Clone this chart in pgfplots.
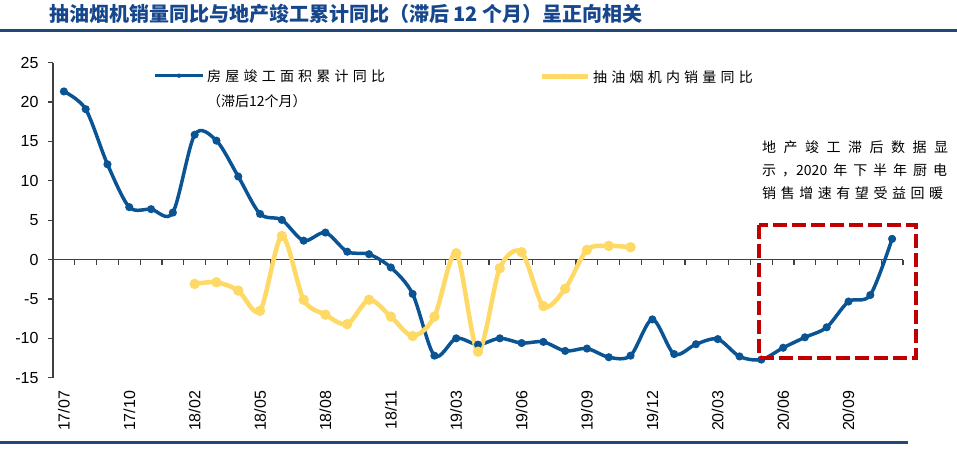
\documentclass[border=0pt]{standalone}
\usepackage{pgfplots}
\pgfplotsset{compat=1.18}
\usepackage{fontspec}
\setmainfont{Liberation Sans}
\newfontfamily\cjk{Noto Sans CJK SC}
\newfontfamily\cjksp[LetterSpace=30]{Noto Sans CJK SC}
\definecolor{seriesblue}{HTML}{0B5494}
\definecolor{yel}{HTML}{FFD966}
\definecolor{boxred}{HTML}{C00000}
\definecolor{titleblue}{HTML}{16468C}
\definecolor{navy}{HTML}{204878}
\definecolor{axisgray}{HTML}{404040}
\begin{document}
\begin{tikzpicture}
\path[use as bounding box] (0,0) rectangle (957pt,-454pt);
% title and rules
\node[anchor=west, inner sep=0, text=titleblue, font=\cjk\bfseries\fontsize{20}{20}\selectfont] at (49pt,-14pt) {抽油烟机销量同比与地产竣工累计同比（滞后 12 个月）呈正向相关};
\draw[navy, line width=3pt] (0pt,-30.5pt) -- (957pt,-30.5pt);
\draw[navy, line width=3pt] (0pt,-442.5pt) -- (908pt,-442.5pt);

% zero line with category ticks
\begin{axis}[
  at={(53pt,-377.7pt)}, anchor=south west,
  scale only axis, width=850pt, height=315pt,
  xmin=-0.5, xmax=38.5, ymin=-15, ymax=25,
  axis x line*=middle, axis y line=none,
  xtick={-0.5,0.5,...,38.5}, xticklabels={},
  xtick align=outside, major tick length=5pt,
  x axis line style={axisgray, line width=1.2pt},
  xtick style={axisgray, line width=1.2pt},
]
\end{axis}

\begin{axis}[
  at={(53pt,-377.7pt)}, anchor=south west,
  scale only axis, width=850pt, height=315pt,
  xmin=-0.5, xmax=38.5, ymin=-15, ymax=25,
  axis y line*=left, axis x line*=bottom,
  x axis line style={draw=none},
  xtick={0,3,...,36},
  xticklabels={17/07,17/10,18/02,18/05,18/08,18/11,19/03,19/06,19/09,19/12,20/03,20/06,20/09},
  xtick style={draw=none},
  ytick={-15,-10,...,25},
  ytick align=outside, major tick length=5pt,
  y axis line style={axisgray, line width=1.2pt},
  ytick style={axisgray, line width=1.2pt},
  xticklabel style={yshift=-13pt, rotate=90, anchor=east, inner sep=0pt, font=\fontsize{16}{16}\selectfont},
  yticklabel style={font=\fontsize{16}{16}\selectfont, xshift=-6pt},
  /pgf/number format/assume math mode=true,
  clip=false,
]
\addplot[seriesblue, line width=3.5pt, smooth, mark=*, mark size=2.2pt] coordinates {
(0,21.35) (1,19.1) (2,12.1) (3,6.66) (4,6.4) (5,5.97) (6,15.85) (7,15.1) (8,10.55) (9,5.8)
(10,5.04) (11,2.4) (12,3.43) (13,1.0) (14,0.68) (15,-1.0) (16,-4.36) (17,-12.2) (18,-10.0) (19,-10.8)
(20,-10.0) (21,-10.6) (22,-10.45) (23,-11.6) (24,-11.3) (25,-12.4) (26,-12.2) (27,-7.6) (28,-12.0) (29,-10.75)
(30,-10.1) (31,-12.3) (32,-12.7) (33,-11.2) (34,-9.87) (35,-8.6) (36,-5.33) (37,-4.5) (38,2.63)
};
\addplot[yel, line width=4.5pt, smooth, mark=*, mark size=2.8pt] coordinates {
(6,-3.09) (7,-2.88) (8,-3.94) (9,-6.5) (10,3.0) (11,-5.1) (12,-7.0) (13,-8.2) (14,-5.1) (15,-7.24)
(16,-9.7) (17,-7.24) (18,0.8) (19,-11.7) (20,-1.1) (21,0.94) (22,-5.9) (23,-3.7) (24,1.23) (25,1.74) (26,1.57)
};
\end{axis}

% legend
\draw[seriesblue, line width=3.5pt] (155pt,-75.7pt) -- (203pt,-75.7pt);
\fill[seriesblue] (179pt,-75.7pt) circle (2.2pt);
\node[anchor=west, inner sep=0, font=\cjksp\fontsize{14}{14}\selectfont] at (207pt,-76pt) {房屋竣工面积累计同比};
\node[anchor=west, inner sep=0, font=\cjk\fontsize{14}{14}\selectfont] at (207pt,-101.5pt) {（滞后12个月）};
\draw[yel, line width=4.5pt] (542pt,-76.7pt) -- (588pt,-76.7pt);
\fill[yel] (565pt,-76.7pt) circle (2.8pt);
\node[anchor=west, inner sep=0, font=\cjksp\fontsize{14}{14}\selectfont] at (593pt,-77pt) {抽油烟机内销量同比};

% annotation
\node[anchor=west, inner sep=0, font=\cjk\fontsize{14}{14}\selectfont] at (762pt,-146.7pt) {\makebox[186pt][s]{地\hfill 产\hfill 竣\hfill 工\hfill 滞\hfill 后\hfill 数\hfill 据\hfill 显}};
\node[anchor=west, inner sep=0, font=\cjk\fontsize{14}{14}\selectfont] at (762pt,-170pt) {\makebox[185pt][s]{示\hfill ，2020\hfill 年\hfill 下\hfill 半\hfill 年\hfill 厨\hfill 电}};
\node[anchor=west, inner sep=0, font=\cjk\fontsize{14}{14}\selectfont] at (762pt,-193.3pt) {\makebox[181pt][s]{销\hfill 售\hfill 增\hfill 速\hfill 有\hfill 望\hfill 受\hfill 益\hfill 回\hfill 暖}};
\draw[boxred, line width=4pt, dash pattern=on 14pt off 5pt] (759pt,-225pt) rectangle (916pt,-357.5pt);
\end{tikzpicture}
\end{document}
